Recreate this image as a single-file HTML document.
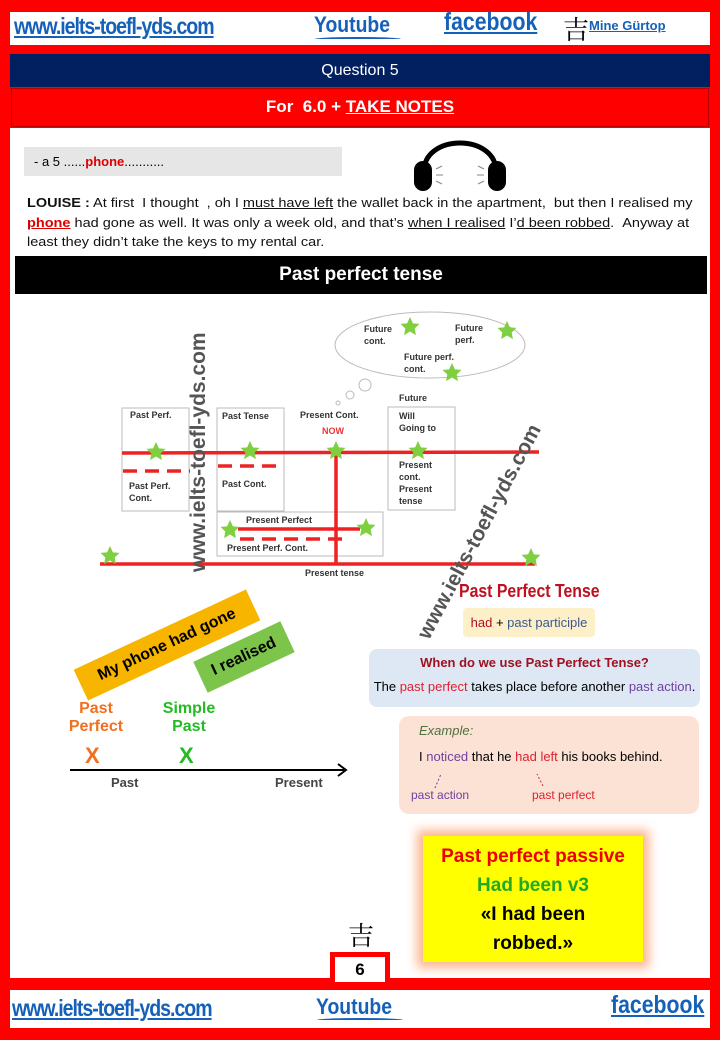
<!DOCTYPE html>
<html><head><meta charset="utf-8"><style>
*{margin:0;padding:0;box-sizing:border-box}
body{width:720px;height:1040px;background:#f00;position:relative;overflow:hidden;font-family:"Liberation Sans",sans-serif}
.a{position:absolute}
.lk{color:#1560b8;font-weight:bold;text-decoration:underline;font-family:"Liberation Sans Narrow","Liberation Sans",sans-serif;white-space:nowrap}
</style></head><body>
<div class="a" style="left:10px;top:12px;width:700px;height:33px;background:#fff"></div>
<div class="a lk" style="left:14px;top:13px;font-size:23px;letter-spacing:-1.2px;transform:scaleX(.85);transform-origin:left">www.ielts-toefl-yds.com</div>
<div class="a lk" style="left:314px;top:12px;font-size:22px;text-decoration:none;transform:scaleX(.88);transform-origin:left">Youtube</div>
<div class="a" style="left:315px;top:37px;width:86px;height:4px;border-top:2px solid #1560b8;border-radius:50%"></div>
<div class="a lk" style="left:444px;top:8px;font-size:25px;transform:scaleX(.85);transform-origin:left">facebook</div>
<div class="a" style="left:563px;top:10px;font-size:26px;font-family:'Noto Serif CJK SC',serif">吉</div>
<div class="a lk" style="left:589px;top:18px;font-size:13px">Mine Gürtop</div>

<div class="a" style="left:10px;top:54px;width:700px;height:33px;background:#022060;color:#fff;text-align:center;font-size:16px;line-height:33px">Question 5</div>
<div class="a" style="left:11px;top:88px;width:698px;height:39px;background:#f00;border:1px solid #b00;color:#fff;text-align:center;font-size:17px;font-weight:bold;line-height:36px">For &nbsp;6.0 + <u>TAKE NOTES</u></div>
<div class="a" style="left:10px;top:128px;width:700px;height:850px;background:#fff"></div>
<div class="a" style="left:24px;top:147px;width:318px;height:29px;background:#e6e6e6;font-size:13px;line-height:29px;padding-left:10px">- a 5 ......<b style="color:#d00">phone</b>...........</div>
<svg class="a" style="left:412px;top:133px" width="96" height="60" viewBox="0 0 96 60"><path d="M12 40 C10 0 86 0 84 40" fill="none" stroke="#000" stroke-width="5"/><rect x="2" y="28" width="18" height="30" rx="9"/><rect x="76" y="28" width="18" height="30" rx="9"/><g stroke="#888" stroke-width="1"><line x1="24" y1="36" x2="30" y2="33"/><line x1="24" y1="42" x2="31" y2="42"/><line x1="24" y1="48" x2="30" y2="51"/><line x1="72" y1="36" x2="66" y2="33"/><line x1="72" y1="42" x2="65" y2="42"/><line x1="72" y1="48" x2="66" y2="51"/></g></svg>
<div class="a" style="left:27px;top:193px;width:600px;font-size:13px;line-height:19.5px;color:#111;white-space:nowrap;transform:scaleX(1.115);transform-origin:left top"><b>LOUISE :</b> At first &nbsp;I thought &nbsp;, oh I <u>must have left</u> the wallet back in the apartment, &nbsp;but then I realised my<br><b style="color:#d00"><u>phone</u></b> had gone as well. It was only a week old, and that’s <u>when I realised</u> I’<u>d been robbed</u>. &nbsp;Anyway at<br>least they didn’t take the keys to my rental car.</div>
<div class="a" style="left:15px;top:256px;width:692px;height:38px;background:#000;color:#fff;text-align:center;font-size:19px;font-weight:bold;line-height:38px">Past perfect tense</div>

<svg class="a" style="left:90px;top:300px" width="480" height="290" viewBox="0 0 480 290" font-family="Liberation Sans" font-weight="bold" font-size="9" fill="#333">
<defs><polygon id="s" points="0,-10 2.9,-3.6 9.5,-3.1 4.7,1.5 5.9,8.1 0,4.5 -5.9,8.1 -4.7,1.5 -9.5,-3.1 -2.9,-3.6" fill="#7ed040"/></defs>
<ellipse cx="340" cy="45" rx="95" ry="33" fill="#fff" stroke="#bbb"/>
<circle cx="275" cy="85" r="6" fill="none" stroke="#bbb"/><circle cx="260" cy="95" r="4" fill="none" stroke="#bbb"/><circle cx="248" cy="103" r="2" fill="none" stroke="#bbb"/>
<text x="274" y="32">Future</text><text x="274" y="44">cont.</text>
<text x="365" y="31">Future</text><text x="365" y="43">perf.</text>
<text x="314" y="60">Future perf.</text><text x="314" y="72">cont.</text>
<use href="#s" x="320" y="27"/><use href="#s" x="417" y="31"/><use href="#s" x="362" y="73"/>
<g fill="none" stroke="#bbb"><rect x="32" y="108" width="67" height="103"/><rect x="127" y="108" width="67" height="103"/><rect x="298" y="107" width="67" height="103"/><rect x="127" y="212" width="166" height="44"/></g>
<text x="40" y="118">Past Perf.</text><text x="132" y="119">Past Tense</text><text x="210" y="118">Present Cont.</text><text x="232" y="134" fill="#e33">NOW</text>
<text x="309" y="101">Future</text><text x="309" y="119">Will</text><text x="309" y="131">Going to</text>
<text x="309" y="168">Present</text><text x="309" y="180">cont.</text><text x="309" y="192">Present</text><text x="309" y="204">tense</text>
<text x="39" y="189">Past Perf.</text><text x="39" y="201">Cont.</text><text x="132" y="187">Past Cont.</text>
<text x="156" y="223">Present Perfect</text><text x="137" y="251">Present Perf. Cont.</text><text x="215" y="276">Present tense</text>
<g stroke="#e22" stroke-width="3.5"><line x1="32" y1="153" x2="449" y2="152"/><line x1="246" y1="153" x2="246" y2="265"/><line x1="10" y1="264" x2="445" y2="264"/><line x1="148" y1="229" x2="270" y2="229"/>
<line x1="33" y1="171" x2="100" y2="171" stroke-dasharray="14,8"/><line x1="128" y1="166" x2="194" y2="166" stroke-dasharray="14,8"/><line x1="150" y1="239" x2="255" y2="239" stroke-dasharray="14,8"/></g>
<use href="#s" x="66" y="152"/><use href="#s" x="160" y="151"/><use href="#s" x="246" y="151"/><use href="#s" x="328" y="151"/><use href="#s" x="140" y="230"/><use href="#s" x="276" y="228"/><use href="#s" x="20" y="256"/><use href="#s" x="441" y="258"/>
</svg>
<div class="a" style="left:187px;top:572px;font-size:21px;font-weight:bold;color:#555;transform:rotate(-90deg);transform-origin:left top;white-space:nowrap">www.ielts-toefl-yds.com</div>
<div class="a" style="left:413px;top:632px;font-size:21px;font-weight:bold;color:#555;transform:rotate(-62deg);transform-origin:left top;white-space:nowrap">www.ielts-toefl-yds.com</div>

<div class="a" style="left:72px;top:628px;width:190px;height:34px;background:#f7b500;transform:rotate(-25deg);font-size:16px;font-weight:bold;text-align:center;line-height:34px">My phone had gone</div>
<div class="a" style="left:196px;top:640px;width:96px;height:34px;background:#7cc44a;transform:rotate(-25deg);font-size:16px;font-weight:bold;text-align:center;line-height:34px">I realised</div>
<div class="a" style="left:60px;top:700px;width:72px;text-align:center;color:#f07020;font-weight:bold;font-size:16px;line-height:18px">Past<br>Perfect</div>
<div class="a" style="left:150px;top:700px;width:78px;text-align:center;color:#22bb22;font-weight:bold;font-size:16px;line-height:18px">Simple<br>Past</div>
<div class="a" style="left:85px;top:743px;color:#f07020;font-weight:bold;font-size:22px">X</div>
<div class="a" style="left:179px;top:743px;color:#22bb22;font-weight:bold;font-size:22px">X</div>
<svg class="a" style="left:68px;top:762px" width="282" height="16"><line x1="2" y1="8" x2="276" y2="8" stroke="#000" stroke-width="2"/><path d="M270 2 L278 8 L270 14" fill="none" stroke="#000" stroke-width="2"/></svg>
<div class="a" style="left:111px;top:775px;color:#444;font-weight:bold;font-size:13px">Past</div>
<div class="a" style="left:275px;top:775px;color:#444;font-weight:bold;font-size:13px">Present</div>

<div class="a" style="left:459px;top:581px;color:#c01020;font-weight:bold;font-size:18px;white-space:nowrap;transform:scaleX(.88);transform-origin:left">Past Perfect Tense</div>
<div class="a" style="left:463px;top:608px;width:132px;height:29px;background:#fdefc8;border-radius:4px;text-align:center;line-height:29px;font-size:13px;white-space:nowrap"><span style="color:#b01020">had</span> + <span style="color:#3a5a90">past participle</span></div>
<div class="a" style="left:369px;top:649px;width:331px;height:58px;background:#dde8f4;border-radius:8px;text-align:center;font-size:13px;white-space:nowrap"><div style="color:#a01020;font-weight:bold;margin-top:6px">When do we use Past Perfect Tense?</div><div style="margin-top:9px">The <span style="color:#e02030">past perfect</span> takes place before another <span style="color:#7040a0">past action</span>.</div></div>
<div class="a" style="left:399px;top:716px;width:300px;height:98px;background:#fbe2d5;border-radius:10px;font-size:13px">
<div style="position:absolute;left:20px;top:7px;color:#507040;font-style:italic">Example:</div>
<div style="position:absolute;left:20px;top:33px;white-space:nowrap">I <span style="color:#7040a0">noticed</span> that he <span style="color:#e02030">had left</span> his books behind.</div>
<svg style="position:absolute;left:0;top:0" width="300" height="98"><line x1="36" y1="72" x2="42" y2="58" stroke="#7040a0" stroke-dasharray="2,2"/><line x1="144" y1="70" x2="138" y2="58" stroke="#e02030" stroke-dasharray="2,2"/></svg>
<div style="position:absolute;left:12px;top:72px;color:#7040a0;font-size:12px">past action</div>
<div style="position:absolute;left:133px;top:72px;color:#e02030;font-size:12px">past perfect</div></div>

<div class="a" style="left:423px;top:836px;width:220px;height:126px;background:#ffff00;box-shadow:0 0 10px 6px #fbb590;text-align:center;font-weight:bold;font-size:19px;line-height:29px;padding-top:6px"><div style="color:#e00">Past perfect passive</div><div style="color:#22aa22">Had been v3</div><div>«I had been<br>robbed.»</div></div>
<div class="a" style="left:348px;top:920px;font-size:26px;font-family:'Noto Serif CJK SC',serif;line-height:30px">吉</div>
<div class="a" style="left:330px;top:952px;width:60px;height:30px;background:#fff;border:5px solid #f00;border-bottom:none;text-align:center;font-weight:bold;font-size:17px;line-height:26px">6</div>

<div class="a" style="left:10px;top:990px;width:700px;height:38px;background:#fff"></div>
<div class="a lk" style="left:12px;top:995px;font-size:23px;letter-spacing:-1.2px;transform:scaleX(.85);transform-origin:left">www.ielts-toefl-yds.com</div>
<div class="a lk" style="left:316px;top:994px;font-size:22px;text-decoration:none;transform:scaleX(.88);transform-origin:left">Youtube</div>
<div class="a" style="left:317px;top:1018px;width:86px;height:4px;border-top:2px solid #1560b8;border-radius:50%"></div>
<div class="a lk" style="left:611px;top:991px;font-size:25px;transform:scaleX(.85);transform-origin:left">facebook</div>
</body></html>
